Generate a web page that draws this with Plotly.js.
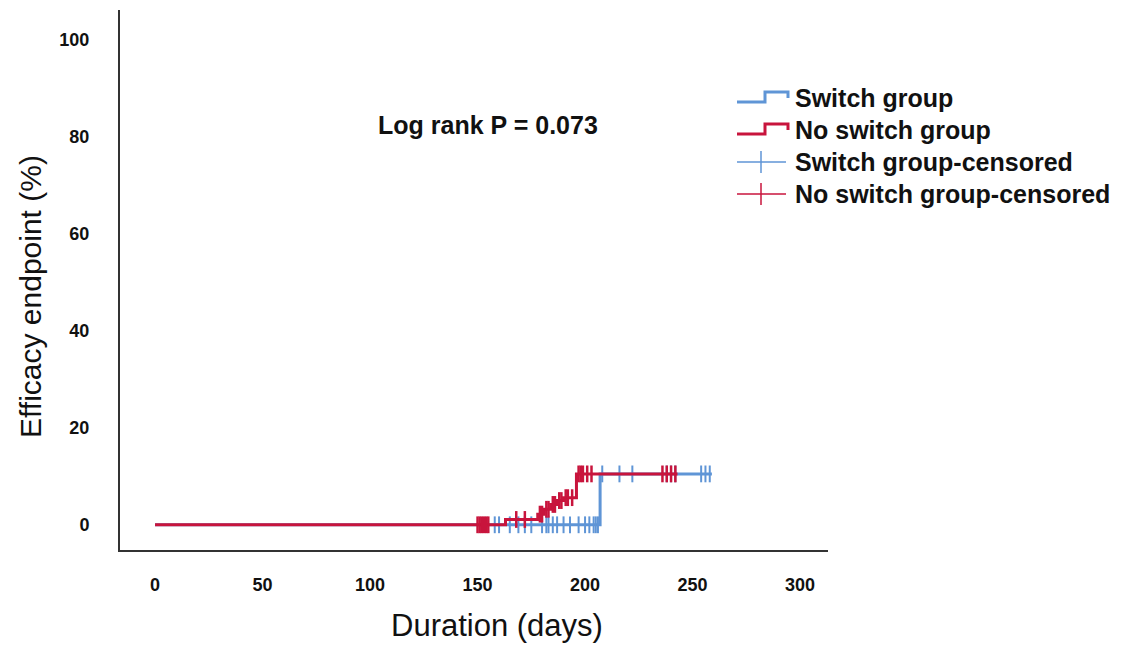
<!DOCTYPE html>
<html>
<head>
<meta charset="utf-8">
<script src="https://cdn.plot.ly/plotly-3.0.1.min.js"></script>
<style>html,body{margin:0;padding:0;background:#fff;}#chart{width:1123px;height:654px;}</style>
</head>
<body>
<div id="chart"></div>
<script>
// ---- data (days, efficacy endpoint %) ----
const switchTimes = [0, 207, 259];
const switchEff = [0, 10.5, 10.5];
const noSwitchTimes = [0, 163, 178, 181, 184, 187, 190, 196, 243];
const noSwitchEff = [0, 1.1, 2.2, 3.2, 4.2, 5.0, 5.6, 10.5, 10.5];

const switchCensTimes = [158, 160, 165, 169, 172, 175, 180, 182, 183, 185, 187, 190, 193, 197, 200, 202, 204, 205, 206,
                         208, 216, 222, 238, 240, 242, 254, 256, 258];
const switchCensEff = [0, 0, 0, 0, 0, 0, 0, 0, 0, 0, 0, 0, 0, 0, 0, 0, 0, 0, 0,
                       10.5, 10.5, 10.5, 10.5, 10.5, 10.5, 10.5, 10.5, 10.5];
const noSwitchCensTimes = [150, 151, 152, 153, 154, 155, 168, 172,
                           179, 180, 182, 183, 185, 186, 188, 189, 191, 192, 194,
                           197, 198, 199, 201, 203, 236, 238, 240, 242];
const noSwitchCensEff = [0, 0, 0, 0, 0, 0, 1.1, 1.1,
                         2.2, 2.2, 3.2, 3.2, 4.2, 4.2, 5.0, 5.0, 5.6, 5.6, 5.6,
                         10.5, 10.5, 10.5, 10.5, 10.5, 10.5, 10.5, 10.5, 10.5];

const xTicks = [0, 50, 100, 150, 200, 250, 300];
const yTicks = [0, 20, 40, 60, 80, 100];
const legendLabels = ['Switch group', 'No switch group', 'Switch group-censored', 'No switch group-censored'];
const annotationText = 'Log rank P = 0.073';
const xTitle = 'Duration (days)';
const yTitle = 'Efficacy endpoint (%)';

const BLUE = '#5f95d6';
const RED = '#c8143c';
const FONT = 'Liberation Sans, Arial, sans-serif';

const traces = [
  {x: switchTimes, y: switchEff, mode: 'lines', line: {shape: 'hv', color: BLUE, width: 3}, showlegend: false, name: legendLabels[0]},
  {x: switchCensTimes, y: switchCensEff, mode: 'markers', marker: {symbol: 'line-ns-open', size: 12, color: BLUE, line: {color: BLUE, width: 2}}, showlegend: false, name: legendLabels[2]},
  {x: noSwitchTimes, y: noSwitchEff, mode: 'lines', line: {shape: 'hv', color: RED, width: 3}, showlegend: false, name: legendLabels[1]},
  {x: noSwitchCensTimes, y: noSwitchCensEff, mode: 'markers', marker: {symbol: 'line-ns-open', size: 12, color: RED, line: {color: RED, width: 2.5}}, showlegend: false, name: legendLabels[3]}
];

// plot area in pixels
const L = 120, R = 828, T = 10, B = 550, W = 1123, H = 654;
const px = v => (v - L) / (R - L);
const py = v => (B - v) / (B - T);

const shapes = [];
const annotations = [];
const rowY = [98, 130, 162, 194];
const colors = [BLUE, RED, BLUE, RED];
rowY.forEach((c, i) => {
  if (i < 2) {
    const path = `M ${px(737)} ${py(c + 4)} L ${px(765)} ${py(c + 4)} L ${px(765)} ${py(c - 6)} L ${px(788)} ${py(c - 6)} L ${px(788)} ${py(c)}`;
    shapes.push({type: 'path', xref: 'paper', yref: 'paper', path: path, line: {color: colors[i], width: 3}});
  } else {
    shapes.push({type: 'line', xref: 'paper', yref: 'paper', x0: px(737), x1: px(786), y0: py(c), y1: py(c), line: {color: colors[i], width: 1.5}});
    shapes.push({type: 'line', xref: 'paper', yref: 'paper', x0: px(761), x1: px(761), y0: py(c - 11), y1: py(c + 11), line: {color: colors[i], width: 1.5}});
  }
  annotations.push({xref: 'paper', yref: 'paper', x: px(793), y: py(c), xanchor: 'left', yanchor: 'middle',
    text: '<b>' + legendLabels[i] + '</b>', showarrow: false, font: {family: FONT, size: 25, color: '#111'}});
});
annotations.push({xref: 'paper', yref: 'paper', x: px(488), y: py(125), xanchor: 'center', yanchor: 'middle',
  text: '<b>' + annotationText + '</b>', showarrow: false, font: {family: FONT, size: 25, color: '#111'}});
annotations.push({xref: 'paper', yref: 'paper', x: px(497), y: py(625), xanchor: 'center', yanchor: 'middle',
  text: xTitle, showarrow: false, font: {family: FONT, size: 31, color: '#111'}});
annotations.push({xref: 'paper', yref: 'paper', x: px(30), y: py(297), xanchor: 'center', yanchor: 'middle', textangle: -90,
  text: yTitle, showarrow: false, font: {family: FONT, size: 30, color: '#111'}});

const layout = {
  width: W, height: H,
  margin: {l: L, r: W - R, t: T, b: H - B},
  paper_bgcolor: '#fff', plot_bgcolor: '#fff',
  font: {family: FONT, color: '#111'},
  xaxis: {
    range: [-16.3, 313], tickvals: xTicks, ticktext: xTicks.map(String),
    showgrid: false, zeroline: false, showline: true, linecolor: '#333', linewidth: 2,
    ticks: '', ticklabelstandoff: 17,
    tickfont: {family: FONT, size: 18, weight: 'bold', color: '#111'}
  },
  yaxis: {
    range: [-5.2, 106.2], tickvals: yTicks, ticktext: yTicks.map(String),
    showgrid: false, zeroline: false, showline: true, linecolor: '#333', linewidth: 2,
    ticks: '', ticklabelstandoff: 25,
    tickfont: {family: FONT, size: 18, weight: 'bold', color: '#111'}
  },
  showlegend: false,
  shapes: shapes,
  annotations: annotations
};

Plotly.newPlot('chart', traces, layout, {displayModeBar: false, staticPlot: true});
</script>
</body>
</html>
